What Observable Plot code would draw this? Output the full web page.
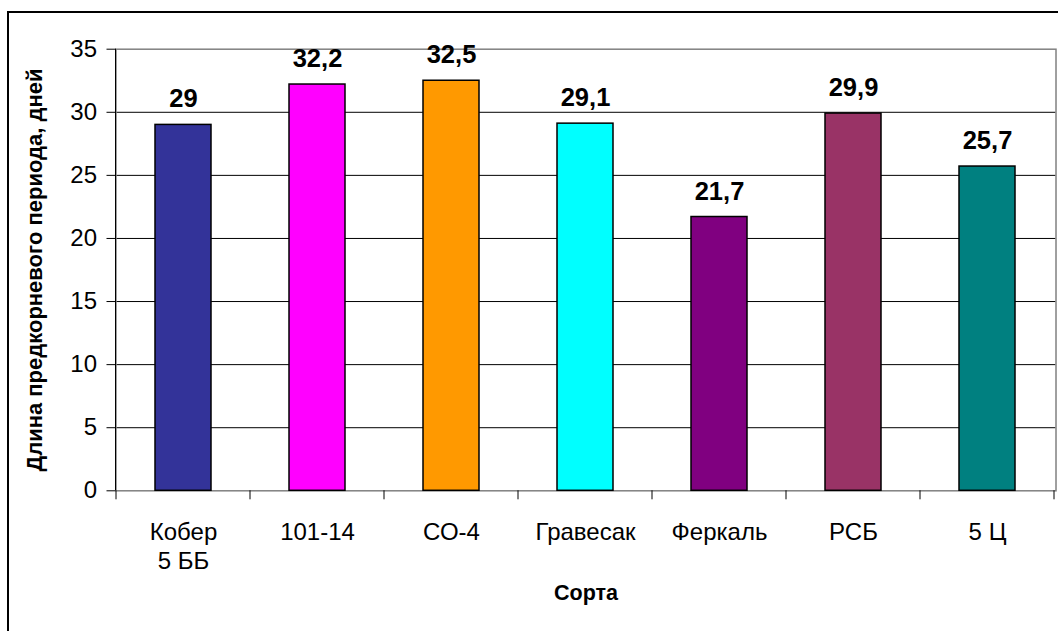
<!DOCTYPE html>
<html>
<head>
<meta charset="utf-8">
<script src="https://cdn.jsdelivr.net/npm/d3@7"></script>
<script src="https://cdn.jsdelivr.net/npm/@observablehq/plot@0.6"></script>
<style>
  html, body { margin: 0; padding: 0; background: #fff; }
  #wrap { position: relative; width: 1058px; height: 631px; overflow: hidden; background: #fff; }
  #outer { position: absolute; left: 7px; top: 11px; width: 1100px; height: 700px; border: 2px solid #000; }
  #chart { position: absolute; left: 0; top: 0; }
</style>
</head>
<body>
<div id="wrap"><div id="outer"></div><div id="chart"></div></div>
<script>
// Varieties and the length of the pre-root period (days)
const categories = ["Кобер\n5 ББ", "101-14", "СО-4", "Гравесак", "Феркаль", "РСБ", "5 Ц"];
const values = [29, 32.2, 32.5, 29.1, 21.7, 29.9, 25.7];
const colors = ["#333399", "#FF00FF", "#FF9900", "#00FFFF", "#800080", "#993366", "#008080"];
const yTicks = [0, 5, 10, 15, 20, 25, 30, 35];
const yTitle = "Длина предкорневого периода, дней";
const xTitle = "Сорта";

const data = categories.map((c, i) => ({category: c, value: values[i], color: colors[i]}));
const fmt = v => String(v).replace(".", ",");
const font = "'Liberation Sans', Arial, sans-serif";

// category boundary ticks under the baseline plus the black value axis line
const axisDecor = (index, scales) => {
  const x = scales.x, y = scales.y;
  const step = x.step();
  const gap = (step - x.bandwidth()) / 2;
  const y0 = y(0);
  const g = d3.create("svg:g").attr("stroke", "#000").attr("stroke-width", 1);
  const edges = categories.map(c => x(c) - gap);
  edges.push(x(categories[categories.length - 1]) + x.bandwidth() + gap);
  for (const e of edges) {
    g.append("line").attr("x1", e).attr("x2", e).attr("y1", y0).attr("y2", y0 + 9);
  }
  const left = x.range()[0];
  g.append("line").attr("x1", left).attr("x2", left).attr("y1", y(0)).attr("y2", y(35));
  return g.node();
};

const chart = Plot.plot({
  width: 1058,
  height: 631,
  marginLeft: 115.5,
  marginRight: 2.5,
  marginTop: 48.7,
  marginBottom: 140.7,
  style: {fontFamily: font, background: "transparent", color: "#000"},
  x: {domain: categories, paddingInner: 0.58, paddingOuter: 0.29, axis: null},
  y: {domain: [0, 35], axis: null},
  color: {type: "identity"},
  marks: [
    Plot.ruleY(yTicks.filter(t => t > 0 && t < 35), {stroke: "#000", strokeWidth: 1}),
    Plot.frame({stroke: "#808080", strokeWidth: 1.5}),
    Plot.barY(data, {x: "category", y: "value", fill: "color", stroke: "#000", strokeWidth: 1.5}),
    Plot.text(data, {x: "category", y: "value", text: d => fmt(d.value), lineAnchor: "bottom", dy: -17.5,
      fontSize: 25.5, fontWeight: "bold", fill: "#000"}),
    Plot.axisY(yTicks, {tickSize: 9, tickPadding: 10, fontSize: 24, label: null}),
    Plot.text(data, {x: "category", text: "category", frameAnchor: "bottom", lineAnchor: "top", dy: 29,
      lineHeight: 1.2, fontSize: 24, fill: "#000"}),
    Plot.text([yTitle], {text: d => d, frameAnchor: "left", textAnchor: "middle", rotate: -90, dx: -81.5,
      fontSize: 22, fontWeight: "bold", fill: "#000"}),
    Plot.text([xTitle], {text: d => d, frameAnchor: "bottom", textAnchor: "middle", dy: 109,
      fontSize: 21.5, fontWeight: "bold", fill: "#000"}),
    axisDecor
  ]
});
document.getElementById("chart").appendChild(chart);
</script>
</body>
</html>
